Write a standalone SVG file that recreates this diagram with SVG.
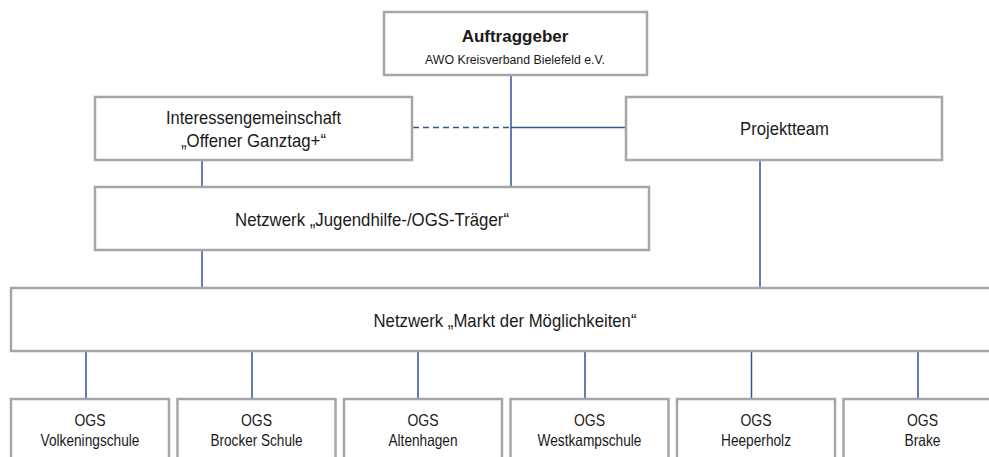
<svg xmlns="http://www.w3.org/2000/svg" width="989" height="457" viewBox="0 0 989 457">
<style>
.box{fill:#ffffff;stroke:#a6a6a6;stroke-width:2.5}
.t{font-family:"Liberation Sans",Arial,sans-serif;font-size:19px;fill:#1a1a1a;text-anchor:middle}
.b{font-weight:bold;font-size:17px}
.s{font-size:13px}
.o{font-size:16.5px}
.c{stroke:#2f5597;stroke-width:1.5;fill:none}
.d{stroke-dasharray:6 4}
</style>
<rect width="989" height="457" fill="#ffffff"/>
<g id="connectors">
<line class="c" x1="511" y1="75" x2="511" y2="186"/>
<line class="c d" x1="413" y1="127.5" x2="511" y2="127.5"/>
<line class="c" x1="511" y1="127.5" x2="625" y2="127.5"/>
<line class="c" x1="202" y1="160" x2="202" y2="186"/>
<line class="c" x1="202" y1="250" x2="202" y2="287"/>
<line class="c" x1="760" y1="160" x2="760" y2="287"/>
<line class="c" x1="86" y1="351" x2="86" y2="398"/>
<line class="c" x1="252" y1="351" x2="252" y2="398"/>
<line class="c" x1="418" y1="351" x2="418" y2="398"/>
<line class="c" x1="585" y1="351" x2="585" y2="398"/>
<line class="c" x1="751.5" y1="351" x2="751.5" y2="398"/>
<line class="c" x1="918" y1="351" x2="918" y2="398"/>
</g>
<g id="auftraggeber">
<rect class="box" x="384" y="12" width="263" height="63"/>
<text class="t b" x="515" y="42">Auftraggeber</text>
<text class="t s" x="515" y="64" textLength="180" lengthAdjust="spacingAndGlyphs">AWO Kreisverband Bielefeld e.V.</text>
</g>
<g id="interessengemeinschaft">
<rect class="box" x="95" y="97" width="317" height="63"/>
<text class="t" x="253.5" y="124" textLength="175" lengthAdjust="spacingAndGlyphs">Interessengemeinschaft</text>
<text class="t" x="253.5" y="147" textLength="145" lengthAdjust="spacingAndGlyphs">„Offener Ganztag+“</text>
</g>
<g id="projektteam">
<rect class="box" x="626" y="97" width="316" height="63"/>
<text class="t" x="784.5" y="135" textLength="89" lengthAdjust="spacingAndGlyphs">Projektteam</text>
</g>
<g id="jugendhilfe">
<rect class="box" x="95" y="187" width="554" height="63"/>
<text class="t" x="372" y="226" textLength="274" lengthAdjust="spacingAndGlyphs">Netzwerk „Jugendhilfe-/OGS-Träger“</text>
</g>
<g id="markt">
<rect class="box" x="11" y="288" width="990" height="63"/>
<text class="t" x="505" y="327" textLength="263" lengthAdjust="spacingAndGlyphs">Netzwerk „Markt der Möglichkeiten“</text>
</g>
<g id="ogs-volkeningschule">
<rect class="box" x="11" y="399" width="158" height="80"/>
<text class="t o" x="90" y="426" textLength="31" lengthAdjust="spacingAndGlyphs">OGS</text>
<text class="t o" x="90" y="446" textLength="99" lengthAdjust="spacingAndGlyphs">Volkeningschule</text>
</g>
<g id="ogs-brocker">
<rect class="box" x="177.5" y="399" width="158" height="80"/>
<text class="t o" x="256.5" y="426" textLength="31" lengthAdjust="spacingAndGlyphs">OGS</text>
<text class="t o" x="256.5" y="446" textLength="92" lengthAdjust="spacingAndGlyphs">Brocker Schule</text>
</g>
<g id="ogs-altenhagen">
<rect class="box" x="344" y="399" width="158" height="80"/>
<text class="t o" x="423" y="426" textLength="31" lengthAdjust="spacingAndGlyphs">OGS</text>
<text class="t o" x="423" y="446" textLength="69" lengthAdjust="spacingAndGlyphs">Altenhagen</text>
</g>
<g id="ogs-westkampschule">
<rect class="box" x="510.5" y="399" width="158" height="80"/>
<text class="t o" x="589.5" y="426" textLength="31" lengthAdjust="spacingAndGlyphs">OGS</text>
<text class="t o" x="589.5" y="446" textLength="104" lengthAdjust="spacingAndGlyphs">Westkampschule</text>
</g>
<g id="ogs-heeperholz">
<rect class="box" x="677" y="399" width="158" height="80"/>
<text class="t o" x="756" y="426" textLength="31" lengthAdjust="spacingAndGlyphs">OGS</text>
<text class="t o" x="756" y="446" textLength="70" lengthAdjust="spacingAndGlyphs">Heeperholz</text>
</g>
<g id="ogs-brake">
<rect class="box" x="843.5" y="399" width="158" height="80"/>
<text class="t o" x="922.5" y="426" textLength="31" lengthAdjust="spacingAndGlyphs">OGS</text>
<text class="t o" x="922.5" y="446" textLength="36" lengthAdjust="spacingAndGlyphs">Brake</text>
</g>
</svg>
